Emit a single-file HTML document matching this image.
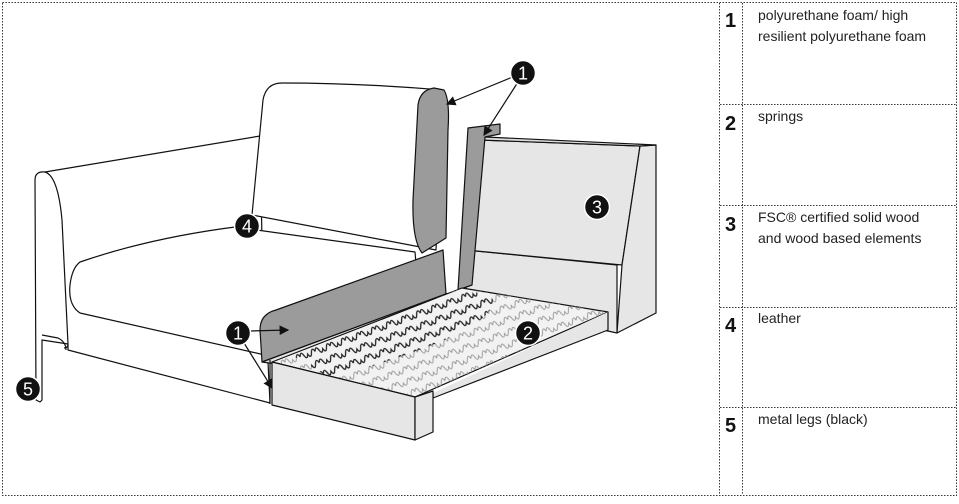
<!DOCTYPE html>
<html><head><meta charset="utf-8"><style>
body{margin:0;background:#fff;width:959px;height:499px;overflow:hidden;font-family:"Liberation Sans",Arial,sans-serif}
</style></head><body>
<svg width="959" height="499" viewBox="0 0 959 499" xmlns="http://www.w3.org/2000/svg">
<defs>
<pattern id="sp" width="16" height="12" patternUnits="userSpaceOnUse" patternTransform="rotate(-20)">
<path d="M0 6 q2 -6 4 0 t4 0 q2 6 4 0 t4 0" fill="none" stroke="#999" stroke-width="1"/>
</pattern>
<pattern id="spd" width="16" height="12" patternUnits="userSpaceOnUse" patternTransform="rotate(-20)">
<path d="M0 6 q2 -6 4 0 t4 0 q2 6 4 0 t4 0" fill="none" stroke="#222" stroke-width="1.2"/>
</pattern>
<marker id="ah" markerWidth="8" markerHeight="8" refX="7" refY="4" orient="auto"><path d="M0 0 L8 4 L0 8z" fill="#111"/></marker>
</defs>
<g fill="none" stroke="#333" stroke-dasharray="1.5 1.5" stroke-width="1">
<rect x="2.5" y="2.5" width="954" height="493"/>
<line x1="719.5" y1="3" x2="719.5" y2="495"/>
<line x1="742.5" y1="3" x2="742.5" y2="495"/>
<line x1="720" y1="104.5" x2="956" y2="104.5"/>
<line x1="720" y1="205.5" x2="956" y2="205.5"/>
<line x1="720" y1="307.5" x2="956" y2="307.5"/>
<line x1="720" y1="407.5" x2="956" y2="407.5"/>
</g>
<g font-size="20" font-weight="bold" fill="#111" font-family="Liberation Sans, sans-serif">
<text x="725" y="27">1</text><text x="725" y="130">2</text><text x="725" y="231">3</text><text x="725" y="332">4</text><text x="725" y="432">5</text>
</g>
<g font-size="14" fill="#222" font-family="Liberation Sans, sans-serif">
<text x="758" y="20">polyurethane foam/ high</text>
<text x="758" y="41">resilient polyurethane foam</text>
<text x="758" y="121">springs</text>
<text x="758" y="222">FSC® certified solid wood</text>
<text x="758" y="243">and wood based elements</text>
<text x="758" y="323">leather</text>
<text x="758" y="424">metal legs (black)</text>
</g>
<g stroke="#111" stroke-width="1.2" fill="#fff" stroke-linejoin="round">
<path d="M35 180 Q35 171 45 172 L260 136 L262 240 L270 403 L68 350 L68 344 L42 340 L42 400 L40 402 L36 400 Z"/>
<path d="M45 172 Q58 176 62 220 L68 344 Q68 348 64 348" fill="none"/>
<path d="M42 335 L58 338 Q66 342 66 350" fill="none"/>
<path d="M252 215 L263 100 Q266 83 282 83 Q360 83 442 90 L436 250 Z"/>
<path d="M80 262 Q150 238 235 227 L415 252 L420 310 L265 355 L80 313 Q68 305 70 285 Q72 268 80 262 Z"/>
<path d="M418 105 Q420 90 434 88 L444 90 Q450 100 448 130 L446 238 L422 253 Q412 240 413 200 Z" fill="#9b9b9b"/>
<path d="M260 330 Q260 314 276 310 L443 250 L446 294 L262 362 Z" fill="#9b9b9b"/>
<path d="M262 362 L446 294 L462 290 L276 364 Z" fill="#e6e6e6"/>
<path d="M466 250 L617 265 L617 333 L466 300 Z" fill="#e6e6e6"/>
<path d="M480 140 L640 146 L622 265 L466 250 Z" fill="#e6e6e6"/>
<path d="M640 146 L656 145 L656 313 L617 333 L622 265 Z" fill="#e6e6e6"/>
<path d="M485 137 L656 145 L640 146 L480 140 Z" fill="#ddd"/>
<path d="M458 290 L468 128 L500 124 L500 134 L485 137 L472 285 Z" fill="#9b9b9b"/>
<path d="M272 362 L462 288 L608 312 L415 397 Z" fill="#f2f2f2"/>
<path d="M272 362 L462 288 L608 312 L415 397 Z" fill="url(#sp)" stroke="none"/>
<path d="M290 354 L462 290 L492 296 Q505 330 330 378 Z" fill="url(#spd)" stroke="none"/>
<path d="M608 312 L608 330 L433 398 L433 393" fill="#e6e6e6"/>
<path d="M272 362 L415 397 L415 440 L272 405 Z" fill="#e6e6e6"/>
<path d="M415 397 L433 391 L433 432 L415 440 Z" fill="#e6e6e6"/>
<line x1="270" y1="360" x2="270" y2="404"/>
</g>
<g stroke="#111" stroke-width="1.2" marker-end="url(#ah)">
<line x1="515" y1="76" x2="447" y2="104"/>
<line x1="518" y1="82" x2="484" y2="135"/>
<line x1="250" y1="331" x2="288" y2="330"/>
<line x1="244" y1="343" x2="272" y2="388"/>
</g>
<g fill="#111" stroke="#fff" stroke-width="1.5">
<circle cx="523" cy="73" r="12.5"/><circle cx="597" cy="207" r="12.5"/><circle cx="528" cy="333" r="12.5"/>
<circle cx="247" cy="226" r="12.5"/><circle cx="238" cy="333" r="12.5"/><circle cx="28" cy="389" r="12.5"/>
</g>
<g fill="#fff" font-size="18" text-anchor="middle" font-family="Liberation Sans, sans-serif">
<text x="523" y="79.5">1</text><text x="597" y="213.5">3</text><text x="528" y="339.5">2</text>
<text x="247" y="232.5">4</text><text x="238" y="339.5">1</text><text x="28" y="395.5">5</text>
</g>
</svg>
</body></html>
